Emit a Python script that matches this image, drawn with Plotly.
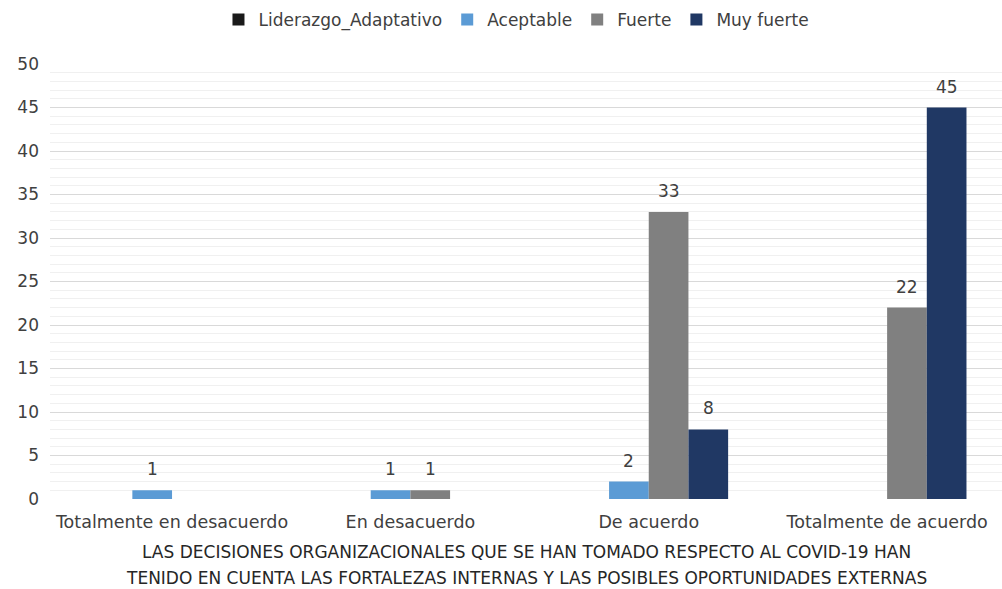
import plotly.graph_objects as go

# Response categories on the x axis
categorias = ["Totalmente en desacuerdo", "En desacuerdo", "De acuerdo", "Totalmente de acuerdo"]

# Counts per level of adaptive leadership
liderazgo_adaptativo = [0, 0, 0, 0]
aceptable = [1, 1, 2, 0]
fuerte = [0, 1, 33, 22]
muy_fuerte = [0, 0, 8, 45]

series = [
    ("Liderazgo_Adaptativo", liderazgo_adaptativo, "#1a1a1a"),
    ("Aceptable", aceptable, "#5b9bd5"),
    ("Fuerte", fuerte, "#808080"),
    ("Muy fuerte", muy_fuerte, "#203864"),
]

titulo_x = [
    "LAS DECISIONES ORGANIZACIONALES QUE SE HAN TOMADO RESPECTO AL COVID-19 HAN",
    "TENIDO EN CUENTA LAS FORTALEZAS INTERNAS Y LAS POSIBLES OPORTUNIDADES EXTERNAS",
]

FONT = "DejaVu Sans"
TXT = "#404040"
BARGAP = 0.334

fig = go.Figure()
for nombre, valores, color in series:
    fig.add_trace(go.Bar(
        name=nombre,
        x=list(range(len(categorias))),
        y=valores,
        marker=dict(color=color, line=dict(width=0)),
    ))

# Value labels above each non-zero bar
n = len(series)
slot = (1 - BARGAP) / n
annotations = []
for i, (nombre, valores, color) in enumerate(series):
    for j, v in enumerate(valores):
        if v:
            annotations.append(dict(
                x=j + (i - (n - 1) / 2) * slot, y=v, xref="x", yref="y",
                text=str(v), showarrow=False, yanchor="bottom", yshift=9,
                font=dict(family=FONT, size=17, color=TXT),
            ))

# Two-line axis title
for k, linea in enumerate(titulo_x):
    annotations.append(dict(
        x=0.5, y=0, xref="paper", yref="paper", text=linea, showarrow=False,
        yanchor="middle", yshift=-53 - 26 * k,
        font=dict(family=FONT, size=17, color="#262626"),
    ))

fig.update_layout(
    width=1002, height=589,
    margin=dict(l=50, r=0, t=64, b=90),
    paper_bgcolor="white", plot_bgcolor="white",
    barmode="group", bargap=BARGAP, bargroupgap=0,
    font=dict(family=FONT, size=17, color=TXT),
    legend=dict(
        orientation="h", x=0.49, xanchor="center",
        yref="container", y=0.966, yanchor="middle",
        font=dict(family=FONT, size=17, color=TXT),
        traceorder="normal", itemwidth=30,
    ),
    annotations=annotations,
    showlegend=True,
)

fig.update_xaxes(
    tickmode="array", tickvals=list(range(len(categorias))), ticktext=categorias,
    range=[-0.512, 3.482], showgrid=False, zeroline=False, showline=False,
    ticks="", ticklabelstandoff=10,
    tickfont=dict(family=FONT, size=17.5, color=TXT),
)

fig.update_yaxes(
    range=[0, 50], dtick=5, showgrid=True, gridcolor="#d9d9d9", gridwidth=1,
    zeroline=False, showline=False, ticks="", ticklabelstandoff=10,
    tickfont=dict(family=FONT, size=17, color=TXT),
    minor=dict(dtick=1, showgrid=True, gridcolor="#f0f0f0", gridwidth=1),
)

fig.write_html("out.html")
